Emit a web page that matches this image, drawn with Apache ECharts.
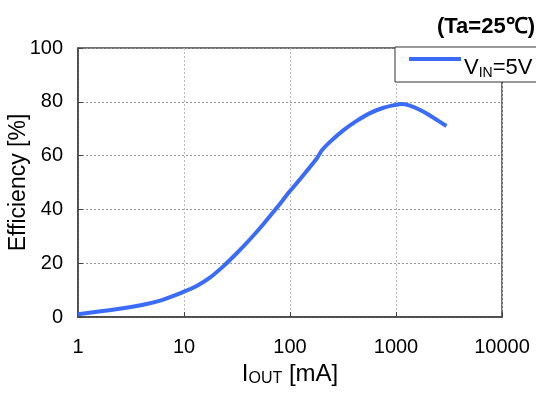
<!DOCTYPE html>
<html><head><meta charset="utf-8">
<script src="https://cdn.jsdelivr.net/npm/echarts@6/dist/echarts.min.js"></script>
<style>html,body{margin:0;padding:0;background:#fff}#c{width:536px;height:394px}</style>
</head><body><div id="c"></div>
<script>
const currents = [1, 1.78, 3.16, 5.62, 10, 13.3, 17.8, 23.7, 31.6, 42.2, 56.2, 75, 100, 133, 178, 190, 200, 237, 316, 422, 562, 750, 1000, 1120, 1330, 1580, 2000, 2510, 2990];
const efficiency = [1.0, 2.3, 3.7, 5.8, 9.4, 11.6, 14.8, 19.0, 23.8, 29.0, 34.6, 40.6, 46.8, 52.6, 58.8, 60.6, 62.0, 65.0, 69.3, 72.8, 75.7, 77.7, 78.9, 79.2, 78.7, 77.5, 75.4, 72.9, 71.0];
const xTicks = [1, 10, 100, 1000, 10000];
const yTicks = [0, 20, 40, 60, 80, 100];
const seriesName = 'VIN=5V';

const font = 'Liberation Sans, Arial, sans-serif';
const chart = echarts.init(document.getElementById('c'), null, {renderer: 'canvas'});
chart.setOption({
  animation: false,
  title: {
    text: '(Ta=25℃)', right: -4, top: 11,
    textStyle: {fontFamily: font, fontWeight: 'bold', fontSize: 22, color: '#000'}
  },
  legend: {
    left: 395, top: 47,
    data: [{name: seriesName, icon: 'rect'}],
    itemWidth: 52, itemHeight: 4, itemGap: 0,
    backgroundColor: '#fff', borderColor: '#333', borderWidth: 1, borderRadius: 0,
    padding: [10, 40, 2, 14],
    formatter: () => '{v|V}{s|IN}{v|=5V}',
    textStyle: {
      padding: [18, 0, 0, -2],
      rich: {
        v: {fontFamily: font, fontSize: 22, color: '#000'},
        s: {fontFamily: font, fontSize: 14, color: '#000', padding: [10, 0, 0, 0]}
      }
    }
  },
  grid: {left: 78, right: 34, top: 48, bottom: 77, show: true, borderColor: '#444', borderWidth: 1.5, containLabel: false, outerBoundsMode: 'none'},
  xAxis: {
    type: 'log', logBase: 10, min: xTicks[0], max: xTicks[xTicks.length - 1],
    name: '{i|I}{s|OUT}{i| [mA]}', nameLocation: 'middle', nameGap: 43,
    nameTextStyle: {rich: {
      i: {fontFamily: font, fontSize: 24, color: '#000'},
      s: {fontFamily: font, fontSize: 16, color: '#000', padding: [10, 0, 0, 0]}
    }},
    axisLine: {show: true, lineStyle: {color: '#444', width: 1.5}},
    axisTick: {show: true, inside: true, length: 5, lineStyle: {color: '#444'}},
    minorTick: {show: false},
    axisLabel: {fontFamily: font, fontSize: 20, color: '#000', margin: 20, formatter: v => String(Math.round(v))},
    splitLine: {show: true, lineStyle: {color: '#bbb', type: [2, 2], width: 1}}
  },
  yAxis: {
    type: 'value', min: yTicks[0], max: yTicks[yTicks.length - 1], interval: 20,
    name: 'Efficiency [%]', nameLocation: 'middle', nameGap: 48, nameMoveOverlap: false,
    nameTextStyle: {fontFamily: font, fontSize: 23, color: '#000'},
    axisLine: {show: true, lineStyle: {color: '#444', width: 1.5}},
    axisTick: {show: true, inside: true, length: 5, lineStyle: {color: '#444'}},
    axisLabel: {fontFamily: font, fontSize: 20, color: '#000', margin: 15},
    splitLine: {show: true, lineStyle: {color: '#999', type: [2, 2], width: 1}}
  },
  series: [{
    name: seriesName, type: 'line', smooth: 0.3, showSymbol: false, symbol: 'none',
    data: currents.map((c, i) => [c, efficiency[i]]),
    lineStyle: {color: '#3b6cf7', width: 4},
    itemStyle: {color: '#3b6cf7'}
  }]
});
</script></body></html>
